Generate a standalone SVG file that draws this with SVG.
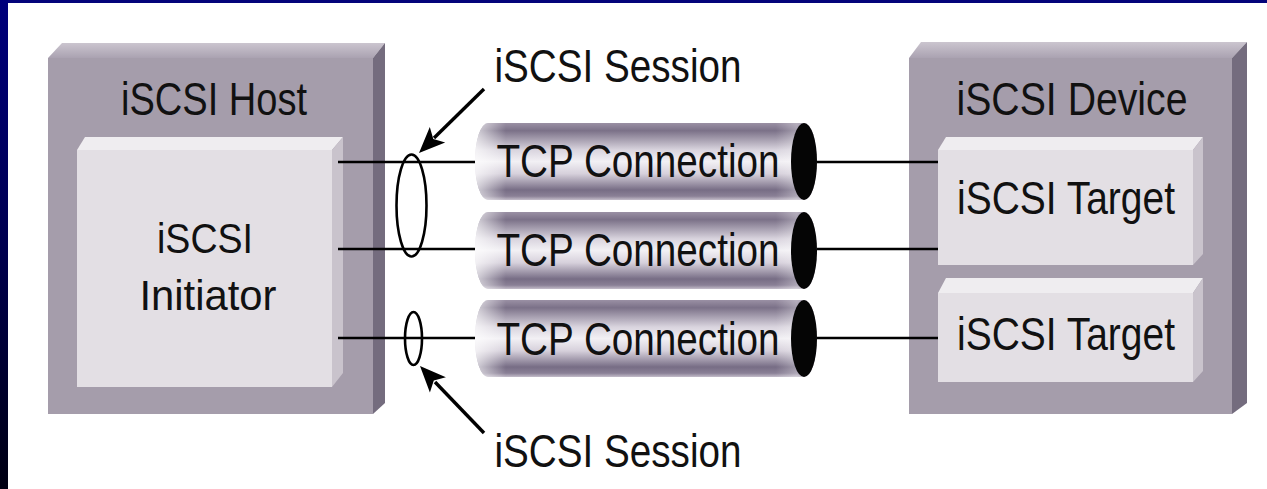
<svg xmlns="http://www.w3.org/2000/svg" width="1267" height="489" viewBox="0 0 1267 489">
  <defs>
    <linearGradient id="leftBar" x1="0" y1="0" x2="0" y2="1">
      <stop offset="0" stop-color="#00007c"/>
      <stop offset="0.5" stop-color="#000050"/>
      <stop offset="1" stop-color="#000012"/>
    </linearGradient>
    <linearGradient id="topFace" x1="0" y1="0" x2="0" y2="1">
      <stop offset="0" stop-color="#cbc5cf"/>
      <stop offset="1" stop-color="#aaa2b1"/>
    </linearGradient>
    <linearGradient id="cylV" x1="0" y1="0" x2="0" y2="1">
      <stop offset="0" stop-color="#9a90a4"/>
      <stop offset="0.1" stop-color="#7b7188"/>
      <stop offset="0.35" stop-color="#d9d4de"/>
      <stop offset="0.5" stop-color="#f2f0f4"/>
      <stop offset="0.66" stop-color="#d6d0db"/>
      <stop offset="0.87" stop-color="#776d85"/>
      <stop offset="0.95" stop-color="#8a8096"/>
      <stop offset="1" stop-color="#c4bdca"/>
    </linearGradient>
    <linearGradient id="cylH" x1="0" y1="0" x2="1" y2="0">
      <stop offset="0" stop-color="#ffffff" stop-opacity="0.7"/>
      <stop offset="0.09" stop-color="#ffffff" stop-opacity="0"/>
      <stop offset="0.88" stop-color="#ffffff" stop-opacity="0"/>
      <stop offset="0.94" stop-color="#ffffff" stop-opacity="0.3"/>
      <stop offset="1" stop-color="#ffffff" stop-opacity="0"/>
    </linearGradient>
  </defs>
  <style>
    .lbl { font-family: "Liberation Sans", Arial, sans-serif; fill: #111; }
    .front { fill: #a59dab; }
    .side { fill: #746c7e; }
    .top { fill: url(#topFace); }
    .ifront { fill: #e3dfe4; }
    .itop { fill: #efedf0; }
    .iside { fill: #c9c3cc; }
    .wire { stroke: #000; stroke-width: 2.6; fill: none; }
    .pointer { stroke: #000; stroke-width: 3.4; fill: none; }
    .head { fill: #000; stroke: none; }
    .ring { stroke: #000; stroke-width: 2.6; fill: none; }
    .body { fill: url(#cylV); }
    .shine { fill: url(#cylH); }
    .cap { fill: #050505; }
  </style>

  <rect x="0" y="0" width="1267" height="489" fill="#ffffff"/>
  <rect x="0" y="0" width="1267" height="3" fill="#04047a"/>
  <rect x="0" y="0" width="8" height="489" fill="url(#leftBar)"/>

  <!-- iSCSI Host -->
  <g id="host">
    <polygon class="top" points="48,58 62,43 385,43 373,58"/>
    <polygon class="side" points="373,58 385,43 385,403 373,414"/>
    <rect class="front" x="48" y="58" width="325" height="356"/>
    <text class="lbl" x="214" y="115" font-size="46" text-anchor="middle" textLength="186" lengthAdjust="spacingAndGlyphs">iSCSI Host</text>
  </g>

  <g id="initiator">
    <polygon class="itop" points="77,150 85,137 343,137 332,150"/>
    <polygon class="iside" points="332,150 343,137 343,373 332,387"/>
    <rect class="ifront" x="77" y="150" width="255" height="237"/>
    <text class="lbl" x="205" y="253" font-size="42" text-anchor="middle" textLength="96" lengthAdjust="spacingAndGlyphs">iSCSI</text>
    <text class="lbl" x="208" y="310" font-size="42" text-anchor="middle" textLength="137" lengthAdjust="spacingAndGlyphs">Initiator</text>
  </g>

  <!-- iSCSI Device -->
  <g id="device">
    <polygon class="top" points="909,58 921,42 1247,42 1232,58"/>
    <polygon class="side" points="1232,58 1247,42 1247,403 1232,414"/>
    <rect class="front" x="909" y="58" width="323" height="356"/>
    <text class="lbl" x="1072" y="115" font-size="46" text-anchor="middle" textLength="231" lengthAdjust="spacingAndGlyphs">iSCSI Device</text>
  </g>

  <g id="target1">
    <polygon class="itop" points="938,150 946,137 1203,137 1193,150"/>
    <polygon class="iside" points="1193,150 1203,137 1203,254 1193,265"/>
    <rect class="ifront" x="938" y="150" width="255" height="115"/>
    <text class="lbl" x="1066" y="214" font-size="46" text-anchor="middle" textLength="218" lengthAdjust="spacingAndGlyphs">iSCSI Target</text>
  </g>

  <g id="target2">
    <polygon class="itop" points="938,293 946,278 1203,278 1193,293"/>
    <polygon class="iside" points="1193,293 1203,278 1203,371 1193,382"/>
    <rect class="ifront" x="938" y="293" width="255" height="89"/>
    <text class="lbl" x="1066" y="350" font-size="46" text-anchor="middle" textLength="218" lengthAdjust="spacingAndGlyphs">iSCSI Target</text>
  </g>

  <!-- connectors -->
  <g id="connectors">
    <line class="wire" x1="338" y1="162" x2="476" y2="162"/>
    <line class="wire" x1="338" y1="249" x2="476" y2="249"/>
    <line class="wire" x1="338" y1="338" x2="476" y2="338"/>
    <line class="wire" x1="816" y1="162" x2="938" y2="162"/>
    <line class="wire" x1="816" y1="249" x2="938" y2="249"/>
    <line class="wire" x1="816" y1="338" x2="938" y2="338"/>
    <ellipse class="ring" cx="411.5" cy="205.5" rx="15" ry="51"/>
    <ellipse class="ring" cx="413.5" cy="338.5" rx="8.5" ry="26.5"/>
    <line class="pointer" x1="484" y1="89" x2="434" y2="138"/>
    <polygon class="head" points="419,153 445.2,142.5 433.3,139 429.8,126.9"/>
    <line class="pointer" x1="484" y1="433" x2="435" y2="382"/>
    <polygon class="head" points="420,366 429.9,392.4 433.8,380.5 445.9,377.2"/>
  </g>

  <!-- TCP connections -->
  <g id="tcp1">
    <path class="body" d="M488,123 H804 A13,38.5 0 0 1 804,200 H488 A13,38.5 0 0 1 488,123 Z"/>
    <path class="shine" d="M488,123 H804 A13,38.5 0 0 1 804,200 H488 A13,38.5 0 0 1 488,123 Z"/>
    <ellipse class="cap" cx="804" cy="161.5" rx="13" ry="38.5"/>
    <text class="lbl" x="638" y="177" font-size="46" text-anchor="middle" textLength="283" lengthAdjust="spacingAndGlyphs">TCP Connection</text>
  </g>
  <g id="tcp2">
    <path class="body" d="M488,212 H804 A13,38.5 0 0 1 804,289 H488 A13,38.5 0 0 1 488,212 Z"/>
    <path class="shine" d="M488,212 H804 A13,38.5 0 0 1 804,289 H488 A13,38.5 0 0 1 488,212 Z"/>
    <ellipse class="cap" cx="804" cy="250.5" rx="13" ry="38.5"/>
    <text class="lbl" x="638" y="266" font-size="46" text-anchor="middle" textLength="283" lengthAdjust="spacingAndGlyphs">TCP Connection</text>
  </g>
  <g id="tcp3">
    <path class="body" d="M488,300 H804 A13,38.5 0 0 1 804,377 H488 A13,38.5 0 0 1 488,300 Z"/>
    <path class="shine" d="M488,300 H804 A13,38.5 0 0 1 804,377 H488 A13,38.5 0 0 1 488,300 Z"/>
    <ellipse class="cap" cx="804" cy="338.5" rx="13" ry="38.5"/>
    <text class="lbl" x="638" y="355" font-size="46" text-anchor="middle" textLength="283" lengthAdjust="spacingAndGlyphs">TCP Connection</text>
  </g>

  <!-- session labels -->
  <g id="session-top">
    <text class="lbl" x="618" y="82" font-size="46" text-anchor="middle" textLength="247" lengthAdjust="spacingAndGlyphs">iSCSI Session</text>
  </g>
  <g id="session-bottom">
    <text class="lbl" x="618" y="467" font-size="46" text-anchor="middle" textLength="247" lengthAdjust="spacingAndGlyphs">iSCSI Session</text>
  </g>
</svg>
